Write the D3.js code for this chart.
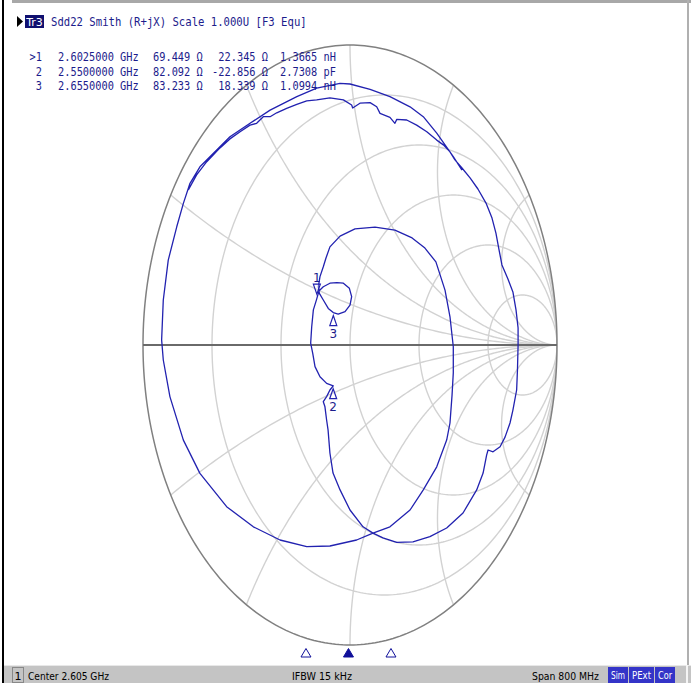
<!DOCTYPE html>
<html><head><meta charset="utf-8">
<script src="https://cdn.jsdelivr.net/npm/d3@7"></script>
<style>body{margin:0;background:#fff;overflow:hidden} svg{display:block}</style>
</head><body>
<script>
// ---------- data ----------
const traceLabel = "Tr3";
const headerText = "Sdd22 Smith (R+jX) Scale 1.000U [F3 Equ]";
const markerIds = [">1", "2", "3"];
const markerNums = ["1", "2", "3"];
const markerFreqText = ["2.6025000 GHz", "2.5500000 GHz", "2.6550000 GHz"];
const markerFreqGHz = [2.6025, 2.55, 2.655];
const markerR = [69.449, 82.092, 83.233];          // ohm
const markerX = [22.345, -22.856, 18.339];         // ohm
const markerLCText = ["1.3665 nH", "2.7308 pF", "1.0994 nH"];
const z0 = 100;                                    // differential reference
const rCircles = [0.2, 0.5, 1, 2, 5];
const xArcs = [0.268, 0.577, 1, 1.732, 3.732];
const startGHz = 2.205, stopGHz = 3.005;
const statusCh = "1";
const statusCenter = "Center 2.605 GHz";
const statusIfbw = "IFBW 15 kHz";
const statusSpan = "Span 800 MHz";
const statusFlags = ["Sim", "PExt", "Cor"];

// trace: reflection coefficient (real, imag), in sweep order
const traceRe = [-0.781,-0.741,-0.692,-0.628,-0.580,-0.531,-0.483,-0.451,-0.419,-0.386,-0.354,-0.306,-0.257,-0.209,-0.161,-0.097,-0.032,0.008,0.013,0.048,0.097,0.129,0.145,0.193,0.217,0.226,0.274,0.322,0.371,0.419,0.451,0.483,0.507,
 0.541,0.580,0.618,0.657,0.686,0.705,0.720,0.734,0.763,0.787,0.802,0.812,0.812,0.809,0.805,0.787,0.773,0.749,0.725,0.691,0.667,0.660,0.643,0.612,0.546,0.467,0.386,0.304,0.226,0.159,0.111,0.063,0.000,-0.048,-0.082,-0.097,-0.106,-0.113,-0.121,-0.129,-0.113,-0.097,-0.081,
 -0.113,-0.145,-0.169,-0.180,-0.190,-0.185,-0.177,-0.161,-0.150,
 -0.129,-0.097,-0.063,-0.032,-0.003,0.008,0.000,-0.024,-0.057,-0.081,-0.105,-0.129,-0.148,-0.153,-0.145,-0.129,
 -0.116,-0.097,-0.048,0.024,0.121,0.217,0.300,0.362,0.415,0.459,0.483,0.499,0.499,0.493,0.483,0.467,0.419,0.354,0.290,0.193,0.111,0.032,-0.097,-0.209,-0.338,-0.467,-0.596,-0.725,-0.805,-0.870,-0.902,-0.910,-0.902,-0.878,-0.837,-0.805,-0.773,
 -0.725,-0.644,-0.580,-0.483,-0.386,-0.257,-0.161,-0.048,0.000,0.097,0.193,0.290,0.354,0.419,0.459,0.499,0.541];
const traceIm = [0.517,0.567,0.611,0.657,0.687,0.711,0.733,0.739,0.761,0.761,0.774,0.789,0.802,0.814,0.817,0.824,0.817,0.800,0.790,0.806,0.808,0.794,0.772,0.759,0.739,0.752,0.750,0.733,0.711,0.683,0.667,0.644,0.617,
 0.590,0.557,0.520,0.473,0.423,0.373,0.317,0.267,0.220,0.177,0.117,0.057,0.000,-0.083,-0.150,-0.217,-0.260,-0.307,-0.339,-0.356,-0.350,-0.367,-0.427,-0.483,-0.560,-0.610,-0.639,-0.656,-0.658,-0.643,-0.627,-0.606,-0.550,-0.483,-0.427,-0.360,-0.283,-0.250,-0.206,-0.189,-0.172,-0.150,-0.136,
 -0.128,-0.106,-0.072,-0.028,0.006,0.061,0.117,0.153,0.180,
 0.194,0.206,0.208,0.206,0.189,0.161,0.133,0.111,0.103,0.108,0.122,0.150,0.172,0.194,0.228,0.261,
 0.290,0.327,0.363,0.387,0.393,0.383,0.357,0.323,0.277,0.183,0.094,-0.006,-0.093,-0.167,-0.260,-0.317,-0.406,-0.483,-0.550,-0.606,-0.627,-0.650,-0.670,-0.672,-0.650,-0.606,-0.539,-0.428,-0.317,-0.172,-0.050,0.017,0.150,0.283,0.394,0.472,0.539,
 0.594,0.650,0.694,0.739,0.783,0.828,0.856,0.872,0.870,0.852,0.828,0.794,0.761,0.706,0.667,0.628,0.583];

// ---------- drawing ----------
const W = 691, H = 683;
const svg = d3.select("body").append("svg").attr("width", W).attr("height", H);
const MONO = "'DejaVu Sans Mono', monospace";
const SANS = "'DejaVu Sans', 'Liberation Sans', sans-serif";
const TXT = "#1c1c8c", TRACE = "#2222b0";

// frame
svg.append("rect").attr("x", 0).attr("y", 0).attr("width", W).attr("height", H).attr("fill", "#fff");
svg.append("rect").attr("x", 12).attr("y", 0).attr("width", W - 12).attr("height", 3).attr("fill", "#a8a8a8");
svg.append("rect").attr("x", 2).attr("y", 0).attr("width", 2).attr("height", H).attr("fill", "#000");
svg.append("rect").attr("x", 687).attr("y", 0).attr("width", 2).attr("height", 666).attr("fill", "#b0b0b0");

// smith scales
const sx = d3.scaleLinear().domain([-1, 1]).range([143, 557]);
const sy = d3.scaleLinear().domain([-1, 1]).range([645, 45]);
const line = d3.line().x(d => sx(d[0])).y(d => sy(d[1]));

const defs = svg.append("defs");
defs.append("clipPath").attr("id", "uc").append("ellipse")
  .attr("cx", sx(0)).attr("cy", sy(0)).attr("rx", sx(1) - sx(0)).attr("ry", sy(0) - sy(1));

function circlePts(cx, cy, r, n) {
  return d3.range(n + 1).map(i => {
    const a = 2 * Math.PI * i / n;
    return [cx + r * Math.cos(a), cy + r * Math.sin(a)];
  });
}
const grid = svg.append("g").attr("clip-path", "url(#uc)").attr("fill", "none")
  .attr("stroke", "#d2d2d2").attr("stroke-width", 1.4);
rCircles.forEach(r => {
  grid.append("path").attr("d", line(circlePts(r / (1 + r), 0, 1 / (1 + r), 360)));
});
xArcs.forEach(x => {
  [1, -1].forEach(s => {
    grid.append("path").attr("d", line(circlePts(1, s / x, 1 / x, 1440)));
  });
});
// outer circle and real axis
svg.append("path").attr("d", line(circlePts(0, 0, 1, 360))).attr("fill", "none")
  .attr("stroke", "#808080").attr("stroke-width", 1.5);
svg.append("path").attr("d", line([[-1, 0], [1, 0]])).attr("stroke", "#6a6a6a").attr("stroke-width", 2);

// trace
const tracePts = traceRe.map((v, i) => [v, traceIm[i]]);
svg.append("path").attr("d", line(tracePts)).attr("fill", "none")
  .attr("stroke", TRACE).attr("stroke-width", 1.3).attr("stroke-linejoin", "round");

// markers on chart
function gammaOf(R, X) {
  const a = R / z0, b = X / z0;
  const nr = a - 1, ni = b, dr = a + 1, di = b;
  const d = dr * dr + di * di;
  return [(nr * dr + ni * di) / d, (ni * dr - nr * di) / d];
}
markerR.forEach((R, i) => {
  const g = gammaOf(R, markerX[i]);
  const px = sx(g[0]), py = sy(g[1]);
  const up = i === 0; // active marker drawn above
  const mg = svg.append("g");
  if (up) {
    mg.append("path").attr("d", `M${px - 3.5},${py - 15}L${px + 3.5},${py - 15}L${px},${py - 5}Z`)
      .attr("fill", "#fff").attr("fill-opacity", 0.3).attr("stroke", TRACE).attr("stroke-width", 1.2);
    mg.append("text").attr("x", px).attr("y", py - 17).attr("text-anchor", "middle")
      .attr("font-family", SANS).attr("font-size", 12).attr("fill", TXT).text(markerNums[i]);
  } else {
    mg.append("path").attr("d", `M${px},${py + 3}L${px + 3.5},${py + 13}L${px - 3.5},${py + 13}Z`)
      .attr("fill", "#fff").attr("fill-opacity", 0.3).attr("stroke", TRACE).attr("stroke-width", 1.2);
    mg.append("text").attr("x", px).attr("y", py + 25).attr("text-anchor", "middle")
      .attr("font-family", SANS).attr("font-size", 12).attr("fill", TXT).text(markerNums[i]);
  }
});

// header
function mono(x, y, s, anchor, k) {
  return svg.append("text").attr("transform", `translate(${x},${y}) scale(${k || 0.86},1)`)
    .attr("text-anchor", anchor || "start").attr("font-family", MONO).attr("font-size", 12)
    .attr("fill", TXT).attr("xml:space", "preserve").text(s);
}
svg.append("path").attr("d", "M17,16L23,21.5L17,27Z").attr("fill", "#000");
svg.append("rect").attr("x", 25).attr("y", 15).attr("width", 19).attr("height", 13).attr("fill", "#101070");
svg.append("text").attr("x", 34.5).attr("y", 26).attr("text-anchor", "middle")
  .attr("font-family", SANS).attr("font-size", 11).attr("fill", "#fff").text(traceLabel);
mono(51, 26, headerText, "start", 0.885);

const rowY = [61, 75.5, 90];
markerIds.forEach((id, i) => {
  const y = rowY[i];
  mono(42, y, id, "end");
  mono(58, y, markerFreqText[i]);
  mono(153, y, markerR[i].toFixed(3) + " Ω");
  mono(268, y, markerX[i].toFixed(3) + " Ω", "end");
  mono(280, y, markerLCText[i]);
});

// stimulus-axis marker triangles
const fx = d3.scaleLinear().domain([startGHz, stopGHz]).range([26.7, 674.3]);
markerFreqGHz.forEach((f, i) => {
  const x = fx(f);
  svg.append("path").attr("d", `M${x},${648.5}L${x + 5},${657}L${x - 5},${657}Z`)
    .attr("fill", i === 0 ? "#10109a" : "#fff").attr("stroke", "#10109a").attr("stroke-width", 1);
});

// status bar
const sb = svg.append("g");
sb.append("rect").attr("x", 4).attr("y", 665).attr("width", W - 4).attr("height", 18).attr("fill", "#c4c4c4");
sb.append("rect").attr("x", 4).attr("y", 665).attr("width", W - 4).attr("height", 1).attr("fill", "#e8e8e8");
sb.append("rect").attr("x", 12.5).attr("y", 667.5).attr("width", 11).attr("height", 15).attr("fill", "none").attr("stroke", "#888");
sb.append("text").attr("x", 18).attr("y", 679.5).attr("text-anchor", "middle").attr("font-family", SANS)
  .attr("font-size", 11).attr("fill", "#000").text(statusCh);
function stxt(x, y, s, w) {
  sb.append("text").attr("x", x).attr("y", y).attr("font-family", SANS).attr("font-size", 11)
    .attr("fill", "#000").attr("textLength", w).attr("lengthAdjust", "spacingAndGlyphs").text(s);
}
stxt(28, 679.5, statusCenter, 81);
stxt(292, 679.5, statusIfbw, 60);
stxt(532, 679.5, statusSpan, 67);
const flagX = [608, 629, 655], flagW = [20, 25, 20];
statusFlags.forEach((f, i) => {
  sb.append("rect").attr("x", flagX[i]).attr("y", 667).attr("width", flagW[i]).attr("height", 16).attr("fill", "#3434c8");
  sb.append("text").attr("x", flagX[i] + flagW[i] / 2).attr("y", 679).attr("text-anchor", "middle")
    .attr("font-family", SANS).attr("font-size", 10).attr("fill", "#fff")
    .attr("textLength", flagW[i] - 6).attr("lengthAdjust", "spacingAndGlyphs").text(f);
});
sb.append("rect").attr("x", 686).attr("y", 665).attr("width", 2).attr("height", 18).attr("fill", "#f4f4f4");
</script>
</body></html>
